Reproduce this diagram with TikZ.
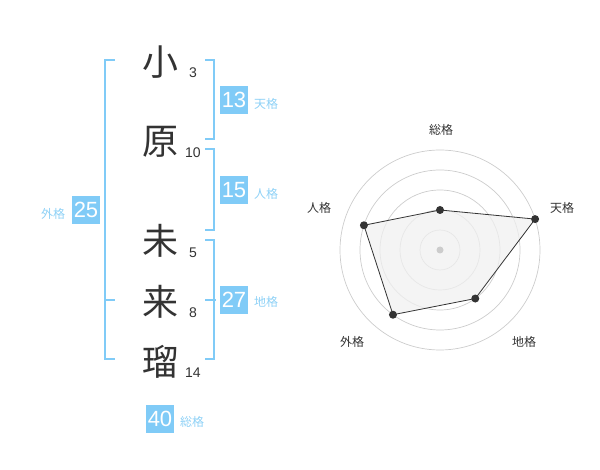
\documentclass[tikz,border=0pt]{standalone}
\usepackage{fontspec}
\setmainfont{Liberation Sans}
\newfontfamily\cjk{Noto Sans CJK JP}
\definecolor{kblue}{HTML}{80CBF7}
\definecolor{klabel}{HTML}{8ED1F6}
\definecolor{kdark}{HTML}{333333}
\definecolor{kring}{HTML}{CCCCCC}
\definecolor{kfill}{HTML}{F0F0F0}
\tikzset{
  kanji/.style={inner sep=0pt, text=kdark, font=\cjk\fontsize{36}{36}\selectfont},
  strokes/.style={inner sep=0pt, text=kdark, font=\fontsize{14}{14}\selectfont},
  bracket/.style={draw=kblue, line width=2pt},
  valbox/.style={fill=kblue, text=white, minimum width=28pt, minimum height=28pt, inner sep=0pt, font=\fontsize{22}{22}\selectfont},
  kaku/.style={inner sep=0pt, text=klabel, font=\cjk\fontsize{12}{12}\selectfont},
  ring/.style={draw=kring, line width=0.7pt},
  axlabel/.style={inner sep=0pt, text=kdark, font=\cjk\fontsize{12}{12}\selectfont},
  vdot/.style={circle, fill=kdark, inner sep=0pt, minimum size=8pt},
}
\begin{document}
\begin{tikzpicture}[x=1pt,y=-1pt]
\useasboundingbox (0,0) rectangle (600,470);
% characters
\node[kanji] (c1) at (160,62) {小};
\node[kanji] (c2) at (160,142) {原};
\node[kanji] (c3) at (160,241) {未};
\node[kanji] (c4) at (160,302) {来};
\node[kanji] (c5) at (160,362) {瑠};
\node[strokes] (n1) at (193,73) {3};
\node[strokes] (n2) at (193,153) {10};
\node[strokes] (n3) at (193,253) {5};
\node[strokes] (n4) at (193,313) {8};
\node[strokes] (n5) at (193,373) {14};
% brackets
\draw[bracket] (115,60) -- (105,60) -- (105,359) -- (115,359);
\draw[bracket] (105,300) -- (115,300);
\draw[bracket] (205,60) -- (214,60) -- (214,139) -- (205,139);
\draw[bracket] (205,149) -- (214,149) -- (214,230) -- (205,230);
\draw[bracket] (205,240) -- (214,240) -- (214,359) -- (205,359);
\draw[bracket] (205,300) -- (216,300);
% value boxes
\node[valbox] (b25) at (86,210) {25};
\node[kaku] (l25) at (53,214) {外格};
\node[valbox] (b13) at (234,100) {13};
\node[kaku] (l13) at (266,104) {天格};
\node[valbox] (b15) at (234,190) {15};
\node[kaku] (l15) at (266,194) {人格};
\node[valbox] (b27) at (234,300) {27};
\node[kaku] (l27) at (266,302) {地格};
\node[valbox] (b40) at (160,419) {40};
\node[kaku] (l40) at (192,422) {総格};
% radar
\begin{scope}[shift={(440,250)}, yscale=-1]
  \foreach \r in {20,40,60,80,100} \draw[ring] (0,0) circle (\r);
  \coordinate (p1) at (90:40);
  \coordinate (p2) at (18:100);
  \coordinate (p3) at (-54:60);
  \coordinate (p4) at (-126:80);
  \coordinate (p5) at (162:80);
  \fill[kfill, opacity=0.75] (p1) -- (p2) -- (p3) -- (p4) -- (p5) -- cycle;
  \draw[kdark, line width=0.8pt] (p1) -- (p2) -- (p3) -- (p4) -- (p5) -- cycle;
  \node[circle, fill=kring, inner sep=0pt, minimum size=7pt] (ctr) at (0,0) {};
  \foreach \p in {p1,p2,p3,p4,p5} \node[vdot] at (\p) {};
\end{scope}
\node[axlabel] (a1) at (441,130) {総格};
\node[axlabel] (a2) at (562,208) {天格};
\node[axlabel] (a3) at (524,342) {地格};
\node[axlabel] (a4) at (352,342) {外格};
\node[axlabel] (a5) at (319,208) {人格};
\end{tikzpicture}
\end{document}
